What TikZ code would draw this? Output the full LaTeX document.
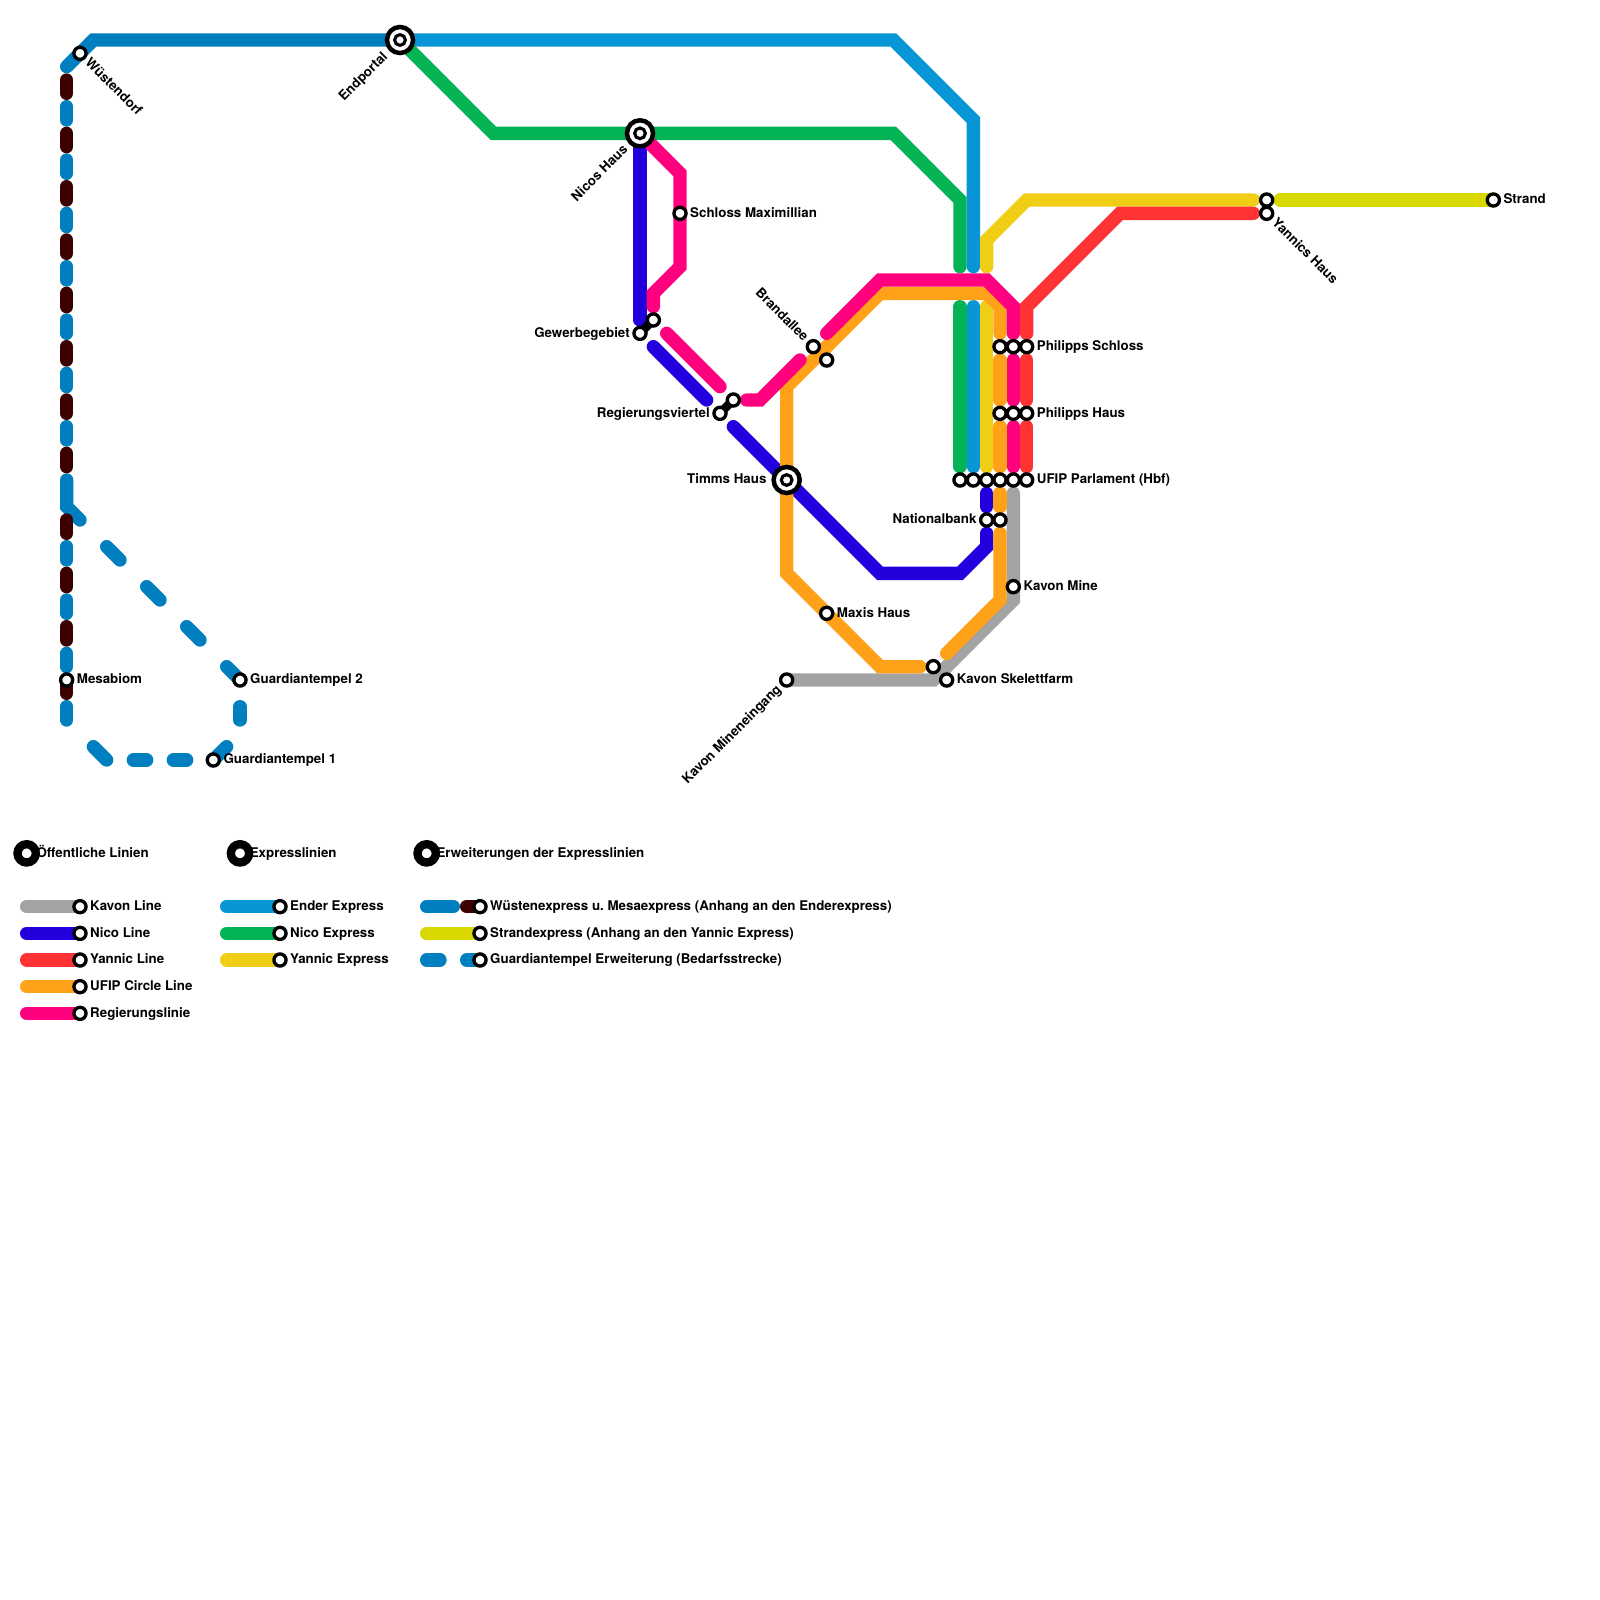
\documentclass[tikz,border=0pt]{standalone}
\usepackage{fontspec}
\setmainfont{TeX Gyre Heros}
\usetikzlibrary{calc}
\pgfdeclarelayer{lines}
\pgfdeclarelayer{links}
\pgfsetlayers{lines,links,main}
\definecolor{ender}{HTML}{0896D7}
\definecolor{nicox}{HTML}{04B354}
\definecolor{yanx}{HTML}{F0CE15}
\definecolor{wuest}{HTML}{007FC0}
\definecolor{mesa}{HTML}{3D0000}
\definecolor{strandc}{HTML}{D8D800}
\definecolor{kavon}{HTML}{A3A3A3}
\definecolor{nico}{HTML}{2200DD}
\definecolor{yannic}{HTML}{FF3333}
\definecolor{ufip}{HTML}{FFA21A}
\definecolor{regier}{HTML}{FF007F}
\tikzset{
  metro/.style={line width=0.4cm,line cap=round,line join=miter,miter limit=4},
  sta/.style={circle,draw=black,fill=white,line width=0.1cm,minimum size=0.364cm,inner sep=0pt,outer sep=0pt},
  bigouter/.style={circle,draw=black,fill=white,line width=0.135cm,minimum size=0.783cm,inner sep=0pt,outer sep=0pt},
  biginner/.style={circle,draw=black,fill=white,line width=0.093cm,minimum size=0.321cm,inner sep=0pt,outer sep=0pt},
  disc/.style={circle,draw=black,fill=white,line width=0.25cm,minimum size=0.55cm,inner sep=0pt,outer sep=0pt},
  stoplink/.style={draw=black,line width=0.26cm},
  txt/.style={font=\fontsize{11.38}{13}\selectfont\bfseries\frenchspacing,inner sep=0pt,text height=6.8pt,text depth=0pt,text=black},
  lr/.style={txt,anchor=west},
  ll/.style={txt,anchor=east},
}
\begin{document}
\begin{tikzpicture}[x=0.4cm,y=-0.4cm]
\useasboundingbox (0,0) rectangle (120,120);
\begin{pgfonlayer}{lines}
\fill[white] (0,0) rectangle (120,120);
\end{pgfonlayer}

% ---------- stations
\foreach \n/\x/\y in {
  wuestendorf/6/4,mesabiom/5/51,guard2/18/51,guard1/16/57,
  schloss/51/16,gewerbe/48/25,gewerbeb/49/24,regv/54/31,regvb/55/30,
  brand/61/26,brandb/62/27,maxis/62/46,skelb/70/50,skel/71/51,mineneingang/59/51,mine/76/44,
  natA/74/39,natB/75/39,
  ufA/72/36,ufB/73/36,ufC/74/36,ufD/75/36,ufE/76/36,ufF/77/36,
  psA/75/26,psB/76/26,psC/77/26,phA/75/31,phB/76/31,phC/77/31,
  yanA/95/15,yanB/95/16,strand/112/15,
  lgA/6/68,lgB/6/70,lgC/6/72,lgD/6/74,lgE/6/76,
  lgF/21/68,lgG/21/70,lgH/21/72,
  lgI/36/68,lgJ/36/70,lgK/36/72}
  \node[sta] (\n) at (\x,\y) {};
\foreach \n/\x/\y in {endportal/30/3,nicos/48/10,timms/59/36}{
  \node[bigouter] (\n) at (\x,\y) {};
  \node[biginner] (\n-c) at (\x,\y) {};
}
\node[disc] (discA) at (2,64) {};
\node[disc] (discB) at (18,64) {};
\node[disc] (discC) at (32,64) {};

% ---------- way points
\foreach \n/\x/\y in {
  e1/67/3,e2/73/9,e3/73/20,e4/73/23,e5/73/35,
  g1/37/10,g2/67/10,g3/72/15,g4/72/20,g5/72/23,g6/72/35,
  y0/94/15,y1/74/20,y2/74/18,y3/77/15,y4/74/23,y5/74/35,
  w0/5/5,w1/7/3,
  k1/70/51,k2/76/45,k3/76/37,
  n1/48/24,n2/49/26,n3/53/30,n4/55/32,n5/66/43,n6/72/43,n7/74/41,n8/74/40,n9/74/37,n10/74/38,
  r0/94/16,r1/84/16,r2/77/23,r3/77/25,r4/77/27,r5/77/30,r6/77/32,r7/77/35,
  u1/75/27,u2/75/30,u3/75/32,u4/75/35,u5/75/37,u6/75/38,u7/75/40,u8/75/45,u9/71/49,
  u10/66/50,u11/59/43,u12/59/29,u13/66/22,u14/74/22,u15/75/23,u16/75/25,u17/69/50,
  p1/51/13,p2/51/20,p3/49/22,p4/49/23,p5/50/25,p6/54/29,p7/56/30,p8/57/30,p9/60/27,
  p10/62/25,p11/66/21,p12/74/21,p13/76/23,p14/76/25,p15/76/27,p16/76/30,p17/76/32,p18/76/35,
  s0/96/15,
  d1/5/36,d2/5/38,d3/6/39,
  q1a/8/41,q1b/9/42,q2a/11/44,q2b/12/45,q3a/14/47,q3b/15/48,q4a/17/50,
  q5a/18/53,q5b/18/54,q6a/17/56,q7a/14/57,q7b/13/57,q8a/11/57,q8b/10/57,q9a/8/57,q9b/7/56,
  m0/5/53,m1/5/54,m2/5/52,
  la/2/68,lb/2/70,lc/2/72,ld/2/74,le/2/76,
  lf/17/68,lg/17/70,lh/17/72,
  li/32/68,lj/34/68,lk/35/68,ll/32/70,lm/32/72,ln/33/72,lo/35/72}
  \coordinate (\n) at (\x,\y);

\begin{pgfonlayer}{lines}
% vertical dashes of the two desert lines
\foreach \i in {0,...,6}{
  \pgfmathtruncatemacro\ya{8+4*\i}\pgfmathtruncatemacro\yb{9+4*\i}
  \coordinate (va\i) at (5,\ya); \coordinate (vb\i) at (5,\yb);
  \draw[metro,wuest] (va\i) -- (vb\i);
}
\foreach \i in {0,1,2}{
  \pgfmathtruncatemacro\ya{41+4*\i}\pgfmathtruncatemacro\yb{42+4*\i}
  \coordinate (vc\i) at (5,\ya); \coordinate (vd\i) at (5,\yb);
  \draw[metro,wuest] (vc\i) -- (vd\i);
}
\draw[metro,wuest] (m0) -- (m1);
\draw[metro,wuest] (d1) -- (d2) -- (d3);
\foreach \i in {0,...,7}{
  \pgfmathtruncatemacro\ya{6+4*\i}\pgfmathtruncatemacro\yb{7+4*\i}
  \coordinate (da\i) at (5,\ya); \coordinate (db\i) at (5,\yb);
  \draw[metro,mesa] (da\i) -- (db\i);
}
\foreach \i in {0,1,2}{
  \pgfmathtruncatemacro\ya{39+4*\i}\pgfmathtruncatemacro\yb{40+4*\i}
  \coordinate (dc\i) at (5,\ya); \coordinate (dd\i) at (5,\yb);
  \draw[metro,mesa] (dc\i) -- (dd\i);
}
\draw[metro,mesa] (mesabiom.center) -- (m2);
\draw[metro,wuest] (w0) -- (w1) -- (endportal.center);
\draw[metro,wuest] (q1a) -- (q1b);
\draw[metro,wuest] (q2a) -- (q2b);
\draw[metro,wuest] (q3a) -- (q3b);
\draw[metro,wuest] (q4a) -- (guard2.center);
\draw[metro,wuest] (q5a) -- (q5b);
\draw[metro,wuest] (q6a) -- (guard1.center);
\draw[metro,wuest] (q7a) -- (q7b);
\draw[metro,wuest] (q8a) -- (q8b);
\draw[metro,wuest] (q9a) -- (q9b);
% express lines
\draw[metro,ender] (endportal.center) -- (e1) -- (e2) -- (e3);
\draw[metro,ender] (e4) -- (e5);
\draw[metro,nicox] (endportal.center) -- (g1) -- (g2) -- (g3) -- (g4);
\draw[metro,nicox] (g5) -- (g6);
\draw[metro,yanx] (y0) -- (y3) -- (y2) -- (y1);
\draw[metro,yanx] (y4) -- (y5);
\draw[metro,strandc] (s0) -- (strand.center);
% public lines
\draw[metro,kavon] (mineneingang.center) -- (k1) -- (k2) -- (k3);
\draw[metro,nico] (nicos.center) -- (n1);
\draw[metro,nico] (n2) -- (n3);
\draw[metro,nico] (n4) -- (n5) -- (n6) -- (n7) -- (n8);
\draw[metro,nico] (n9) -- (n10);
\draw[metro,yannic] (r0) -- (r1) -- (r2) -- (r3);
\draw[metro,yannic] (r4) -- (r5);
\draw[metro,yannic] (r6) -- (r7);
\draw[metro,ufip] (u16) -- (u15) -- (u14) -- (u13) -- (u12) -- (u11) -- (u10) -- (u17);
\draw[metro,ufip] (u1) -- (u2);
\draw[metro,ufip] (u3) -- (u4);
\draw[metro,ufip] (u5) -- (u6);
\draw[metro,ufip] (u7) -- (u8) -- (u9);
\draw[metro,regier] (nicos.center) -- (p1) -- (p2) -- (p3) -- (p4);
\draw[metro,regier] (p5) -- (p6);
\draw[metro,regier] (p7) -- (p8) -- (p9);
\draw[metro,regier] (p10) -- (p11) -- (p12) -- (p13) -- (p14);
\draw[metro,regier] (p15) -- (p16);
\draw[metro,regier] (p17) -- (p18);
% legend lines
\draw[metro,kavon] (la) -- (lgA.center);
\draw[metro,nico] (lb) -- (lgB.center);
\draw[metro,yannic] (lc) -- (lgC.center);
\draw[metro,ufip] (ld) -- (lgD.center);
\draw[metro,regier] (le) -- (lgE.center);
\draw[metro,ender] (lf) -- (lgF.center);
\draw[metro,nicox] (lg) -- (lgG.center);
\draw[metro,yanx] (lh) -- (lgH.center);
\draw[metro,wuest] (li) -- (lj);
\draw[metro,mesa] (lk) -- (lgI.center);
\draw[metro,strandc] (ll) -- (lgJ.center);
\draw[metro,wuest] (lm) -- (ln);
\draw[metro,wuest] (lo) -- (lgK.center);
\end{pgfonlayer}

% ---------- black links between stations of one stop
\begin{pgfonlayer}{links}
\draw[stoplink] (gewerbe.center) -- (gewerbeb.center);
\draw[stoplink] (regv.center) -- (regvb.center);
\draw[stoplink] (natA.center) -- (natB.center);
\draw[stoplink] (ufA.center) -- (ufF.center);
\draw[stoplink] (psA.center) -- (psC.center);
\draw[stoplink] (phA.center) -- (phC.center);
\draw[stoplink] (yanA.center) -- (yanB.center);
\end{pgfonlayer}

% ---------- labels
\node[lr] (t1) at ($(mesabiom.center)+(.75,0)$) {Mesabiom};
\node[lr] (t2) at ($(guard2.center)+(.75,0)$) {Guardiantempel 2};
\node[lr] (t3) at ($(guard1.center)+(.75,0)$) {Guardiantempel 1};
\node[lr] (t4) at ($(schloss.center)+(.75,0)$) {Schloss Maximillian};
\node[lr] (t5) at ($(psC.center)+(.75,0)$) {Philipps Schloss};
\node[lr] (t6) at ($(phC.center)+(.75,0)$) {Philipps Haus};
\node[lr] (t7) at ($(ufF.center)+(.75,0)$) {UFIP Parlament (Hbf)};
\node[lr] (t8) at ($(mine.center)+(.75,0)$) {Kavon Mine};
\node[lr] (t9) at ($(maxis.center)+(.75,0)$) {Maxis Haus};
\node[lr] (t10) at ($(skel.center)+(.75,0)$) {Kavon Skelettfarm};
\node[lr] (t11) at ($(strand.center)+(.75,0)$) {Strand};
\node[ll] (t12) at ($(gewerbe.center)+(-.75,0)$) {Gewerbegebiet};
\node[ll] (t13) at ($(regv.center)+(-.75,0)$) {Regierungsviertel};
\node[ll] (t14) at ($(timms.center)+(-1.5,0)$) {Timms Haus};
\node[ll] (t15) at ($(natA.center)+(-.75,0)$) {Nationalbank};
\node[lr,rotate=-45] (t16) at ($(wuestendorf.center)+(.55,.55)$) {Wüstendorf};
\node[lr,rotate=-45] (t17) at ($(yanB.center)+(.55,.55)$) {Yannics Haus};
\node[ll,rotate=-45] (t18) at ($(brand.center)+(-.55,-.55)$) {Brandallee};
\node[ll,rotate=45] (t19) at ($(endportal.center)+(-1.08,1.08)$) {Endportal};
\node[ll,rotate=45] (t20) at ($(nicos.center)+(-1.08,1.08)$) {Nicos Haus};
\node[ll,rotate=45] (t21) at ($(mineneingang.center)+(-.55,.55)$) {Kavon Mineneingang};
% legend
\node[lr] (h1) at ($(discA.center)+(.72,0)$) {Öffentliche Linien};
\node[lr] (h2) at ($(discB.center)+(.72,0)$) {Expresslinien};
\node[lr] (h3) at ($(discC.center)+(.72,0)$) {Erweiterungen der Expresslinien};
\node[lr] (l1) at ($(lgA.center)+(.75,0)$) {Kavon Line};
\node[lr] (l2) at ($(lgB.center)+(.75,0)$) {Nico Line};
\node[lr] (l3) at ($(lgC.center)+(.75,0)$) {Yannic Line};
\node[lr] (l4) at ($(lgD.center)+(.75,0)$) {UFIP Circle Line};
\node[lr] (l5) at ($(lgE.center)+(.75,0)$) {Regierungslinie};
\node[lr] (l6) at ($(lgF.center)+(.75,0)$) {Ender Express};
\node[lr] (l7) at ($(lgG.center)+(.75,0)$) {Nico Express};
\node[lr] (l8) at ($(lgH.center)+(.75,0)$) {Yannic Express};
\node[lr] (l9) at ($(lgI.center)+(.75,0)$) {Wüstenexpress u. Mesaexpress (Anhang an den Enderexpress)};
\node[lr] (l10) at ($(lgJ.center)+(.75,0)$) {Strandexpress (Anhang an den Yannic Express)};
\node[lr] (l11) at ($(lgK.center)+(.75,0)$) {Guardiantempel Erweiterung (Bedarfsstrecke)};
\end{tikzpicture}
\end{document}
